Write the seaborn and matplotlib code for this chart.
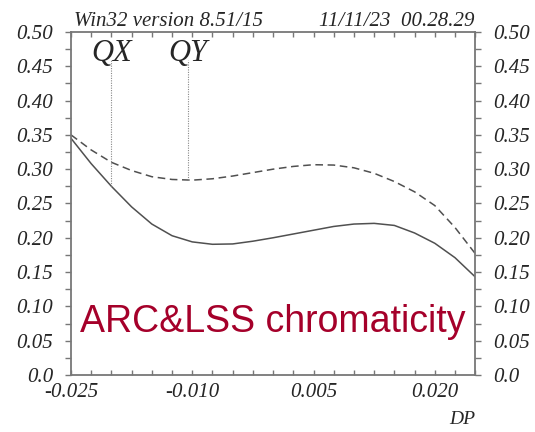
import pandas as pd
import matplotlib.pyplot as plt
import seaborn as sns
from matplotlib.ticker import MultipleLocator, FixedLocator

# momentum deviation grid and chromaticity curves
dp = [-0.025, -0.0225, -0.020, -0.0175, -0.015, -0.0125, -0.010, -0.0075,
      -0.005, -0.0025, 0.000, 0.0025, 0.005, 0.0075, 0.010, 0.0125,
      0.015, 0.0175, 0.020, 0.0225, 0.025]
qx = [0.345, 0.308, 0.275, 0.245, 0.220, 0.203, 0.194, 0.1905,
      0.191, 0.195, 0.200, 0.2055, 0.211, 0.2165, 0.220, 0.221,
      0.218, 0.207, 0.192, 0.171, 0.143]
qy = [0.350, 0.328, 0.310, 0.298, 0.289, 0.285, 0.284, 0.286,
      0.290, 0.295, 0.300, 0.304, 0.3065, 0.306, 0.302, 0.294,
      0.282, 0.267, 0.247, 0.215, 0.177]

marker_names = ['QX', 'QY']
marker_dp = [-0.020, -0.0105]
marker_val = [0.275, 0.284]

x_ticks = [-0.025, -0.010, 0.005, 0.020]
x_tick_labels = ['-0.025', '-0.010', '0.005', '0.020']
y_ticks = [0.0, 0.05, 0.10, 0.15, 0.20, 0.25, 0.30, 0.35, 0.40, 0.45, 0.50]
y_tick_labels = ['0.0', '0.05', '0.10', '0.15', '0.20', '0.25', '0.30',
                 '0.35', '0.40', '0.45', '0.50']

df = pd.DataFrame({
    'DP': dp + dp,
    'chrom': qx + qy,
    'plane': ['QX'] * len(dp) + ['QY'] * len(dp),
})

sns.set_style('white')
plt.rcParams['font.family'] = ['Liberation Serif', 'DejaVu Serif']
plt.rcParams['font.style'] = 'italic'

fig = plt.figure(figsize=(5.35, 4.32), dpi=100)
ax = fig.add_axes([0.1327, 0.132, 0.7555, 0.794])

line_col = '#505050'
sns.lineplot(data=df, x='DP', y='chrom', style='plane',
             dashes={'QX': '', 'QY': (5, 3)}, color=line_col, lw=1.1,
             legend=False, ax=ax)

# vertical markers for the tunes
for name, xm, ym in zip(marker_names, marker_dp, marker_val):
    ax.plot([xm, xm], [ym, 0.459], color='#888888', lw=0.8, ls=(0, (1, 1.2)))
    ax.text(xm, 0.457, name, ha='center', va='baseline', fontsize=22)

ax.set_xlim(-0.025, 0.025)
ax.set_ylim(0.0, 0.50)
ax.xaxis.set_major_locator(FixedLocator(x_ticks))
ax.set_xticklabels(x_tick_labels)
ax.xaxis.set_minor_locator(MultipleLocator(0.0025))
ax.yaxis.set_major_locator(FixedLocator(y_ticks))
ax.set_yticklabels(y_tick_labels)
ax.yaxis.set_minor_locator(MultipleLocator(0.025))
ax.set_xlabel('')
ax.set_ylabel('')

for s in ax.spines.values():
    s.set_color('#777777')
    s.set_linewidth(1.3)

ax.tick_params(axis='x', which='both', direction='in', top=True, bottom=True,
               length=3.5, width=1, color='#777777', labelsize=15, pad=6)
ax.tick_params(axis='y', which='both', direction='out', left=True, right=True,
               labelright=True, length=4, width=1, color='#777777',
               labelsize=15, pad=9)

fig.text(0.138, 0.94, 'Win32 version 8.51/15', fontsize=15,
         ha='left', va='baseline')
fig.text(0.886, 0.94, '11/11/23  00.28.29', fontsize=15,
         ha='right', va='baseline')
fig.text(0.888, 0.01, 'DP', fontsize=14, ha='right', va='bottom')

ax.text(0.022, 0.125, 'ARC&LSS chromaticity', transform=ax.transAxes,
        fontsize=27, color='#a5002a', family='Liberation Sans',
        style='normal', ha='left', va='baseline')

fig.savefig('out.png', dpi=100)
